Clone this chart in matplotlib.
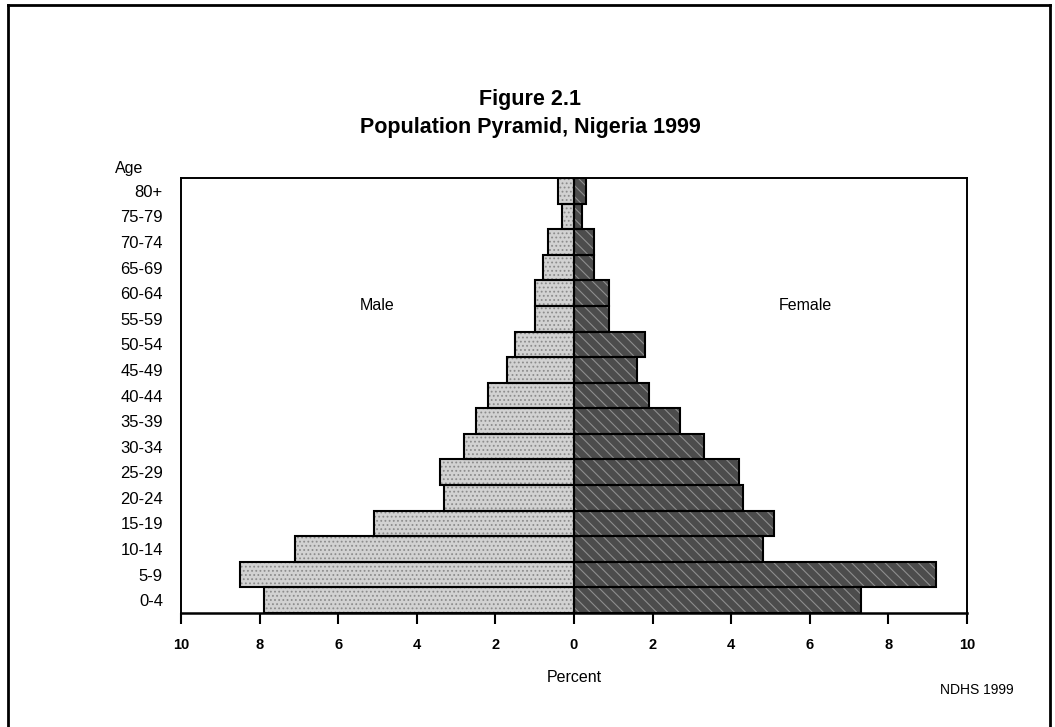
import matplotlib
matplotlib.use("Agg")
import matplotlib.pyplot as plt
from matplotlib.lines import Line2D
import numpy as np

ages = ["0-4", "5-9", "10-14", "15-19", "20-24", "25-29", "30-34", "35-39",
        "40-44", "45-49", "50-54", "55-59", "60-64", "65-69", "70-74", "75-79", "80+"]
male = [7.9, 8.5, 7.1, 5.1, 3.3, 3.4, 2.8, 2.5, 2.2, 1.7, 1.5, 1.0, 1.0, 0.8, 0.65, 0.3, 0.4]
female = [7.3, 9.2, 4.8, 5.1, 4.3, 4.2, 3.3, 2.7, 1.9, 1.6, 1.8, 0.9, 0.9, 0.5, 0.5, 0.2, 0.3]
xticks = [-10, -8, -6, -4, -2, 0, 2, 4, 6, 8, 10]

plt.rcParams['font.family'] = ['Liberation Sans', 'DejaVu Sans']
plt.rcParams['hatch.linewidth'] = 0.8

W, H = 1055, 727
fig = plt.figure(figsize=(W / 100, H / 100), dpi=100)
ax = fig.add_axes([181 / W, 1 - 613 / H, (967 - 181) / W, (613 - 178) / H])

y = np.arange(len(ages))
neg_male = [-m for m in male]
# fills
ax.barh(y, neg_male, height=1.0, color='#d2d2d2', linewidth=0)
ax.barh(y, female, height=1.0, color='#4c4c4c', linewidth=0)
# textures
ax.barh(y, neg_male, height=1.0, fill=False, edgecolor='#8c8c8c', hatch='....', linewidth=0)
ax.barh(y, female, height=1.0, fill=False, edgecolor='#8e8e8e', hatch='\\\\\\', linewidth=0)
# outlines
ax.barh(y, neg_male, height=1.0, fill=False, edgecolor='black', linewidth=1.5)
ax.barh(y, female, height=1.0, fill=False, edgecolor='black', linewidth=1.5)

ax.set_xlim(-10, 10)
ax.set_ylim(-0.5, len(ages) - 0.5)
ax.set_xticks(xticks)
ax.set_xticklabels([str(abs(t)) for t in xticks], fontsize=10.5, fontweight='bold')
ax.set_yticks(y)
ax.set_yticklabels(ages, fontsize=12)
ax.tick_params(axis='x', direction='out', length=8, width=1.5, pad=10)
ax.tick_params(axis='y', length=0, pad=13)
for s in ax.spines.values():
    s.set_linewidth(1.4)
ax.spines['bottom'].set_linewidth(1.8)

ax.text(-5, 11.5, "Male", ha='center', va='center', fontsize=11.5)
ax.text(5.9, 11.5, "Female", ha='center', va='center', fontsize=11.5)

fig.text(115 / W, 1 - 168 / H, "Age", ha='left', va='center', fontsize=11.5)
fig.text(574 / W, 1 - 678 / H, "Percent", ha='center', va='center', fontsize=11.5)
fig.text(940 / W, 1 - 690 / H, "NDHS 1999", ha='left', va='center', fontsize=10)

fig.text(530 / W, 1 - 100 / H, "Figure 2.1", ha='center', va='center', fontsize=15.5,
         fontweight='bold')
fig.text(530 / W, 1 - 128 / H, "Population Pyramid, Nigeria 1999", ha='center', va='center',
         fontsize=15.5, fontweight='bold')

# outer frame
fig.add_artist(Line2D([8 / W, 8 / W], [0, 1 - 5 / H], transform=fig.transFigure, color='black', lw=2))
fig.add_artist(Line2D([8 / W, 1050 / W], [1 - 5 / H, 1 - 5 / H], transform=fig.transFigure, color='black', lw=2))
fig.add_artist(Line2D([1050 / W, 1050 / W], [0, 1 - 5 / H], transform=fig.transFigure, color='black', lw=2))

fig.savefig("out.png", dpi=100)
